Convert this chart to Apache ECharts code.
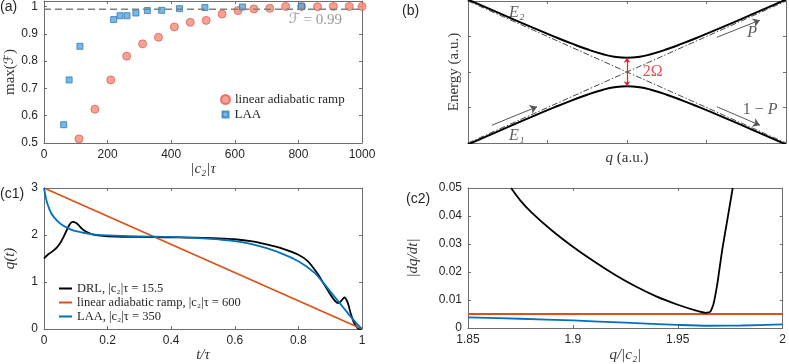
<!DOCTYPE html>
<html><head><meta charset="utf-8">
<script src="https://cdn.jsdelivr.net/npm/echarts@6/dist/echarts.min.js"></script>
<style>html,body{margin:0;padding:0;background:#fff}#c{width:789px;height:364px}</style>
</head><body><div id="c"></div>
<script>
// ---------- Panel (a) data ----------
const aRampX = [110,160,210,260,310,360,410,460,510,560,610,660,710,760,810,860,910,960,1000];
const aRampY = [0.515,0.624,0.731,0.818,0.863,0.887,0.925,0.942,0.949,0.972,0.985,0.991,0.993,1.0,1.0,0.999,1.0,1.0,1.0];
const aLaaX = [62,79,113,219,239,261,289,325,370,426,506,624,810];
const aLaaY = [0.567,0.731,0.854,0.952,0.966,0.966,0.976,0.985,0.986,0.992,0.996,0.998,1.0];
const aThreshold = 0.99;
const aXTicks = [0,200,400,600,800,1000];
const aYTicks = [0.5,0.6,0.7,0.8,0.9,1];

// ---------- Panel (b) data ----------
const bQ     = [-1,-0.8,-0.6,-0.45,-0.35,-0.25,-0.15,-0.08,0,0.08,0.15,0.25,0.35,0.45,0.6,0.8,1];
const bUpper = [1.02,0.825,0.632,0.492,0.403,0.320,0.250,0.215,0.2,0.215,0.250,0.320,0.403,0.492,0.632,0.825,1.02];
const bLower = [-1.02,-0.825,-0.632,-0.492,-0.403,-0.320,-0.250,-0.215,-0.2,-0.215,-0.250,-0.320,-0.403,-0.492,-0.632,-0.825,-1.02];
const bDiabQ = [-1,1];
const bDiabUp = [-1,1];
const bDiabDown = [1,-1];
const bTicks = [-0.5,0,0.5];

// ---------- Panel (c1) data ----------
const c1T_drl = [0,0.01,0.02,0.03,0.04,0.05,0.06,0.07,0.08,0.09,0.1,0.11,0.12,0.13,0.15,0.17,0.2,0.25,0.3,0.35,0.4,0.45,0.5,0.55,0.6,0.65,0.7,0.75,0.8,0.83,0.86,0.88,0.9,0.915,0.925,0.935,0.945,0.955,0.965,0.975,0.985,0.99,1];
const c1Q_drl = [1.5,1.57,1.62,1.67,1.73,1.82,1.94,2.08,2.22,2.28,2.26,2.2,2.13,2.08,2.02,1.99,1.97,1.96,1.96,1.955,1.95,1.945,1.94,1.93,1.91,1.87,1.8,1.71,1.58,1.44,1.18,0.96,0.74,0.6,0.55,0.6,0.67,0.56,0.32,0.13,0.03,0.005,0];
const c1T_lin = [0,1];
const c1Q_lin = [3,0];
const c1T_laa = [0,0.005,0.01,0.02,0.03,0.045,0.06,0.08,0.1,0.13,0.16,0.2,0.3,0.4,0.5,0.55,0.6,0.65,0.7,0.75,0.8,0.85,0.88,0.9,0.93,0.96,0.98,1];
const c1Q_laa = [3,2.82,2.68,2.5,2.39,2.28,2.2,2.13,2.08,2.04,2.01,1.99,1.97,1.96,1.93,1.905,1.87,1.81,1.72,1.6,1.44,1.2,0.97,0.8,0.55,0.3,0.14,0];
const c1XTicks = [0,0.2,0.4,0.6,0.8,1];
const c1YTicks = [0,1,2,3];

// ---------- Panel (c2) data ----------
const c2X_drl = [1.8705,1.875,1.88,1.89,1.9,1.91,1.92,1.93,1.94,1.95,1.958,1.9635,1.9655,1.967,1.969,1.9712,1.9736,1.9762];
const c2Y_drl = [0.05,0.0455,0.0415,0.0348,0.029,0.0238,0.019,0.0148,0.0112,0.0083,0.0064,0.0054,0.0058,0.0085,0.0165,0.028,0.0385,0.05];
const c2X_lin = [1.85,2.0];
const c2Y_lin = [0.005,0.005];
const c2X_laa = [1.85,1.875,1.9,1.925,1.95,1.965,1.98,2.0];
const c2Y_laa = [0.0038,0.0033,0.0027,0.0019,0.0011,0.0008,0.0009,0.0013];
const c2XTicks = [1.85,1.9,1.95,2];
const c2YTicks = [0,0.01,0.02,0.03,0.04,0.05];

// ---------- annotations (b) ----------
const bAnnotX = [-0.69,-0.69,0.79,0.84,0.165];
const bAnnotY = [0.83,-0.9,0.55,-0.535,-0.01];
const bAnnotText = ['{i|E₂}','{i|E₁}','{i|P}','{n|1 − }{i|P}','{r|2Ω}'];

const zip = (a,b) => a.map((v,i)=>[v,b[i]]);

const SANS = 'Liberation Sans, Arial, sans-serif';
const SERIF = 'Liberation Serif, DejaVu Serif, serif';
const SCRIPT = 'DejaVu Sans, Noto Sans, sans-serif';
const AX = '#6e6e6e';
const TXT = '#262626';
const ORANGE = '#D95319', BLUE = '#0072BD';

const chart = echarts.init(document.getElementById('c'), null, {renderer:'canvas'});

function nameStyle(size){
  return {fontFamily:SERIF,fontSize:size,color:'#333',
    rich:{i:{fontFamily:SERIF,fontStyle:'italic',fontSize:size,color:'#333'},
          n:{fontFamily:SERIF,fontSize:size,color:'#333'},
          f:{fontFamily:SCRIPT,fontSize:size-2,color:'#333'}}};
}
function axPair(kind, gi, min, max, ticks, showLabels, name, nameGap, italic){
  const main = {
    type:'value', gridIndex:gi, min:min, max:max,
    position: kind==='x' ? 'bottom' : 'left',
    axisLine:{show:true,onZero:false,lineStyle:{color:AX,width:1}},
    axisTick:{show:true,inside:true,length:3,customValues:ticks,lineStyle:{color:AX}},
    axisLabel:{show:showLabels,customValues:ticks,color:TXT,fontFamily:SANS,fontSize:12,margin:6,
      formatter:v=>String(+v.toFixed(6))},
    splitLine:{show:false},
    name:name, nameLocation:'middle', nameGap:nameGap,
    nameTextStyle: Object.assign(nameStyle(15), italic?{fontStyle:'italic'}:{})
  };
  const mirror = {
    type:'value', gridIndex:gi, min:min, max:max,
    position: kind==='x' ? 'top' : 'right',
    axisLine:{show:true,onZero:false,lineStyle:{color:AX,width:1}},
    axisTick:{show:true,inside:true,length:3,customValues:ticks,lineStyle:{color:AX}},
    axisLabel:{show:false},
    splitLine:{show:false}
  };
  return [main, mirror];
}

const xAxes = [].concat(
  axPair('x',0,0,1000,aXTicks,true,'|c₂|τ',18,true),
  axPair('x',1,-1,1,bTicks,false,'{i|q}{n| (a.u.)}',8,false),
  axPair('x',2,0,1,c1XTicks,true,'t/τ',16,true),
  axPair('x',3,1.85,2,c2XTicks,true,'q/|c₂|',20,true)
);
const yAxes = [].concat(
  axPair('y',0,0.5,1.02,aYTicks,true,'{n|max(}{f|ℱ}{n|)}',26,false),
  axPair('y',1,-1,1,bTicks,false,'Energy (a.u.)',6,false),
  axPair('y',2,0,3,c1YTicks,true,'q(t)',26,true),
  axPair('y',3,0,0.05,c2YTicks,true,'|dq/dt|',47,true)
);

const option = {
  animation:false,
  backgroundColor:'#fff',
  grid:[
    {left:44,top:1,width:318,height:142},
    {left:468,top:1,width:318,height:142},
    {left:44,top:188,width:318,height:141},
    {left:468,top:188,width:318,height:141}
  ],
  xAxis:xAxes,
  yAxis:yAxes,
  legend:[
    {data:['linear adiabatic ramp'], orient:'vertical', left:215, top:88,
     itemWidth:9, itemHeight:9, textStyle:{fontFamily:SERIF,fontSize:13,color:TXT}},
    {data:['LAA'], orient:'vertical', left:216.5, top:103,
     itemWidth:6, itemHeight:6, itemGap:0, textStyle:{fontFamily:SERIF,fontSize:13,color:TXT,padding:[0,0,0,1]}},
    {data:['DRL, |c₂|τ = 15.5','linear adiabatic ramp, |c₂|τ = 600','LAA, |c₂|τ = 350'],
     orient:'vertical', left:53, top:277, itemGap:1, itemWidth:13, itemHeight:2,
     textStyle:{fontFamily:SERIF,fontSize:12.5,color:TXT}}
  ],
  graphic:[
    {type:'text',left:0,top:0,style:{text:'(a)',font:'14px '+SANS,fill:TXT}},
    {type:'text',left:402,top:4,style:{text:'(b)',font:'14px '+SANS,fill:TXT}},
    {type:'text',left:0,top:187,style:{text:'(c1)',font:'14px '+SANS,fill:TXT}},
    {type:'text',left:406,top:192,style:{text:'(c2)',font:'14px '+SANS,fill:TXT}}
  ],
  series:[
    // (a)
    {type:'line',xAxisIndex:0,yAxisIndex:0,data:[[0,aThreshold],[1000,aThreshold]],showSymbol:false,symbol:'none',
     lineStyle:{color:'#808080',width:1.5,type:[7,4]},silent:true},
    {name:'linear adiabatic ramp',type:'scatter',xAxisIndex:0,yAxisIndex:0,data:zip(aRampX,aRampY),
     symbol:'circle',symbolSize:8,itemStyle:{color:'#F4897B',borderColor:'#E2604F',borderWidth:1}},
    {name:'LAA',type:'scatter',xAxisIndex:0,yAxisIndex:0,data:zip(aLaaX,aLaaY),
     symbol:'rect',symbolSize:6,itemStyle:{color:'#5AA5DA',borderColor:'#2A7DBE',borderWidth:1}},
    {type:'scatter',xAxisIndex:0,yAxisIndex:0,data:[[855,0.95]],symbol:'circle',symbolSize:1,
     itemStyle:{color:'rgba(0,0,0,0)'},silent:true,
     label:{show:true,position:[0,0],align:'center',verticalAlign:'middle',
       formatter:'{f|ℱ}{n| = 0.99}',
       rich:{f:{fontFamily:SCRIPT,fontSize:14,color:'#808080'},
             n:{fontFamily:SERIF,fontSize:15,color:'#808080'}}}},
    // (b)
    {type:'line',xAxisIndex:2,yAxisIndex:2,data:zip(bDiabQ,bDiabUp),symbol:'none',
     lineStyle:{color:'#333',width:0.9,type:[6,2,1.5,2]},silent:true,
     markLine:{silent:true,symbol:['none','arrow'],symbolSize:7,animation:false,
       lineStyle:{color:'#555',width:1,type:'solid'},label:{show:false},
       data:[
         [{coord:[0.566,0.49]},{coord:[0.836,0.73]}],
         [{coord:[0.566,-0.49]},{coord:[0.836,-0.75]}],
         [{coord:[-0.85,-0.75]},{coord:[-0.566,-0.49]}]
       ]}},
    {type:'line',xAxisIndex:2,yAxisIndex:2,data:zip(bDiabQ,bDiabDown),symbol:'none',
     lineStyle:{color:'#333',width:0.9,type:[6,2,1.5,2]},silent:true},
    {type:'line',xAxisIndex:2,yAxisIndex:2,data:zip(bQ,bUpper),symbol:'none',smooth:true,
     lineStyle:{color:'#000',width:2},silent:true,
     markLine:{silent:true,symbol:['arrow','arrow'],symbolSize:5,animation:false,
       lineStyle:{color:'#E3202A',width:1.2,type:'solid'},label:{show:false},
       data:[[{coord:[0,0.2]},{coord:[0,-0.2]}]]}},
    {type:'line',xAxisIndex:2,yAxisIndex:2,data:zip(bQ,bLower),symbol:'none',smooth:true,
     lineStyle:{color:'#000',width:2},silent:true},
    {type:'scatter',xAxisIndex:2,yAxisIndex:2,data:zip(bAnnotX,bAnnotY),symbol:'circle',symbolSize:1,
     itemStyle:{color:'rgba(0,0,0,0)'},silent:true,
     label:{show:true,position:[0,0],align:'center',verticalAlign:'middle',
       formatter:p=>bAnnotText[p.dataIndex],
       rich:{i:{fontFamily:SERIF,fontStyle:'italic',fontSize:16,color:'#333'},
             n:{fontFamily:SERIF,fontSize:16,color:'#333'},
             r:{fontFamily:SERIF,fontSize:16,color:'#E3202A'}}}},
    // (c1)
    {name:'DRL, |c₂|τ = 15.5',type:'line',xAxisIndex:4,yAxisIndex:4,data:zip(c1T_drl,c1Q_drl),symbol:'none',
     smooth:0.3,color:'#000',lineStyle:{color:'#000',width:1.8}},
    {name:'linear adiabatic ramp, |c₂|τ = 600',type:'line',xAxisIndex:4,yAxisIndex:4,data:zip(c1T_lin,c1Q_lin),symbol:'none',
     color:ORANGE,lineStyle:{color:ORANGE,width:1.8}},
    {name:'LAA, |c₂|τ = 350',type:'line',xAxisIndex:4,yAxisIndex:4,data:zip(c1T_laa,c1Q_laa),symbol:'none',
     smooth:0.3,color:BLUE,lineStyle:{color:BLUE,width:1.8}},
    // (c2)
    {type:'line',xAxisIndex:6,yAxisIndex:6,data:zip(c2X_lin,c2Y_lin),symbol:'none',
     lineStyle:{color:ORANGE,width:1.8}},
    {type:'line',xAxisIndex:6,yAxisIndex:6,data:zip(c2X_laa,c2Y_laa),symbol:'none',smooth:0.3,
     lineStyle:{color:BLUE,width:1.8}},
    {type:'line',xAxisIndex:6,yAxisIndex:6,data:zip(c2X_drl,c2Y_drl),symbol:'none',smooth:0.15,
     lineStyle:{color:'#000',width:1.8}}
  ]
};
chart.setOption(option);
</script></body></html>
